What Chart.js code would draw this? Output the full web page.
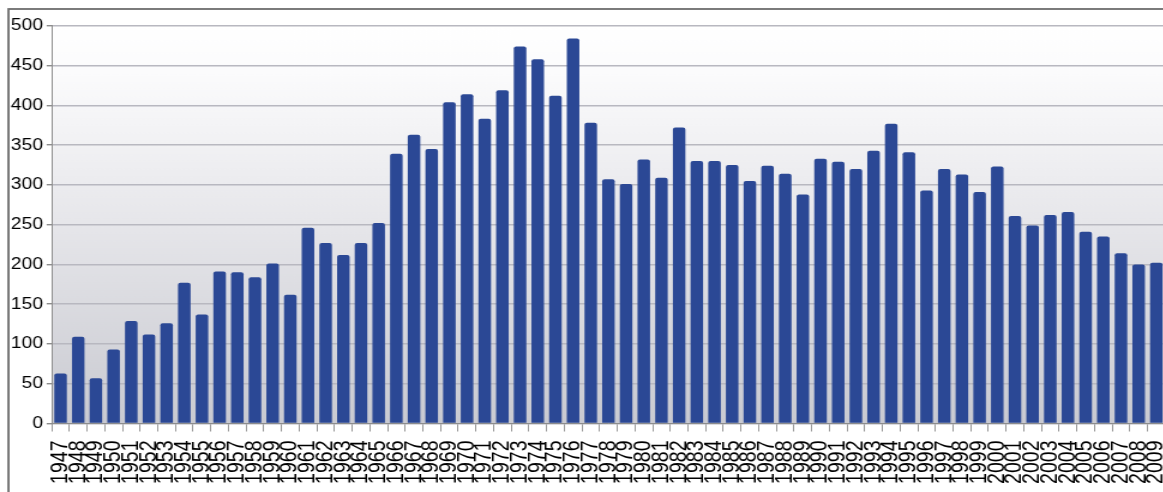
<!DOCTYPE html>
<html>
<head>
<meta charset="utf-8">
<script src="https://cdn.jsdelivr.net/npm/chart.js@4/dist/chart.umd.min.js"></script>
<style>
  html, body { margin: 0; padding: 0; background: #ffffff; overflow: hidden; }
  #wrap { width: 1163px; height: 492px; overflow: hidden; position: relative; }
</style>
</head>
<body>
<!-- the drawing is laid out narrow and widened horizontally by STRETCH -->
<div id="wrap"><canvas id="chart" width="977" height="492"
  style="position:absolute;left:0;top:0;width:1172.4px;height:492px;"></canvas></div>
<script>
const years = [
  '1947','1948','1949','1950','1951','1952','1953','1954','1955','1956',
  '1957','1958','1959','1960','1961','1962','1963','1964','1965','1966',
  '1967','1968','1969','1970','1971','1972','1973','1974','1975','1976',
  '1977','1978','1979','1980','1981','1982','1983','1984','1985','1986',
  '1987','1988','1989','1990','1991','1992','1993','1994','1995','1996',
  '1997','1998','1999','2000','2001','2002','2003','2004','2005','2006',
  '2007','2008','2009'
];

const counts = [
  63, 109, 57, 93, 129, 112, 126, 177, 137, 191,
  190, 184, 201, 162, 246, 227, 212, 227, 252, 339,
  363, 345, 404, 414, 383, 419, 474, 458, 412, 484,
  378, 307, 301, 332, 309, 372, 330, 330, 325, 305,
  324, 314, 288, 333, 329, 320, 343, 377, 341, 293,
  320, 313, 291, 323, 261, 249, 262, 266, 241, 235,
  214, 200, 202
];

const yTicks = [0, 50, 100, 150, 200, 250, 300, 350, 400, 450, 500];

const STRETCH = 1.2;

// grey frame around the figure and the shaded plot background
const framePlugin = {
  id: 'frame',
  beforeDraw(chart) {
    const { ctx, chartArea: a } = chart;
    ctx.save();
    ctx.fillStyle = '#ffffff';
    ctx.fillRect(0, 0, chart.width, chart.height);
    const g = ctx.createLinearGradient(0, a.top, 0, a.bottom);
    g.addColorStop(0, '#ffffff');
    g.addColorStop(0.12, '#fbfbfc');
    g.addColorStop(0.5, '#e6e6ea');
    g.addColorStop(1, '#c9cad1');
    ctx.fillStyle = g;
    ctx.fillRect(a.left, a.top, a.right - a.left, a.bottom - a.top);
    ctx.strokeStyle = '#6e6e6e';
    ctx.lineWidth = 1.8;
    ctx.strokeRect(8.5 / STRETCH, 9, chart.width + 20, chart.height + 20);
    ctx.restore();
  }
};

new Chart(document.getElementById('chart'), {
  type: 'bar',
  data: {
    labels: years,
    datasets: [{
      data: counts,
      backgroundColor: '#2b4895',
      borderWidth: 0,
      borderRadius: { topLeft: 2, topRight: 2 },
      borderSkipped: 'bottom',
      categoryPercentage: 1,
      barPercentage: 0.71
    }]
  },
  options: {
    responsive: false,
    animation: false,
    devicePixelRatio: 1,
    layout: { padding: { left: 0, right: 5.7, top: 25.8, bottom: 0 } },
    plugins: { legend: { display: false }, tooltip: { enabled: false } },
    scales: {
      x: {
        offset: true,
        grid: {
          offset: true,
          drawOnChartArea: false,
          drawTicks: true,
          tickLength: 8,
          tickColor: '#8c8c8c',
          lineWidth: 0.9
        },
        border: { display: true, color: '#8c8c8c', width: 1 },
        ticks: {
          autoSkip: false,
          maxRotation: 90,
          minRotation: 90,
          padding: 9,
          color: '#000000',
          font: { family: "'Liberation Sans', Arial, sans-serif", size: 19.5 }
        },
        afterFit(scale) {
          scale.height = 68.5;
          scale.paddingLeft = 0;
          scale.paddingRight = 0;
        }
      },
      y: {
        min: 0,
        max: 500,
        afterBuildTicks(scale) { scale.ticks = yTicks.map(v => ({ value: v })); },
        grid: {
          color: '#b8b8c0',
          lineWidth: 1.4,
          drawTicks: true,
          tickLength: 4.2,
          tickColor: '#8c8c8c'
        },
        border: { display: true, color: '#8c8c8c', width: 1 },
        ticks: {
          padding: 3.1,
          color: '#000000',
          font: { family: "'Liberation Sans', Arial, sans-serif", size: 16 }
        },
        afterFit(scale) { scale.width = 43.1; }
      }
    }
  },
  plugins: [framePlugin]
});
</script>
</body>
</html>
